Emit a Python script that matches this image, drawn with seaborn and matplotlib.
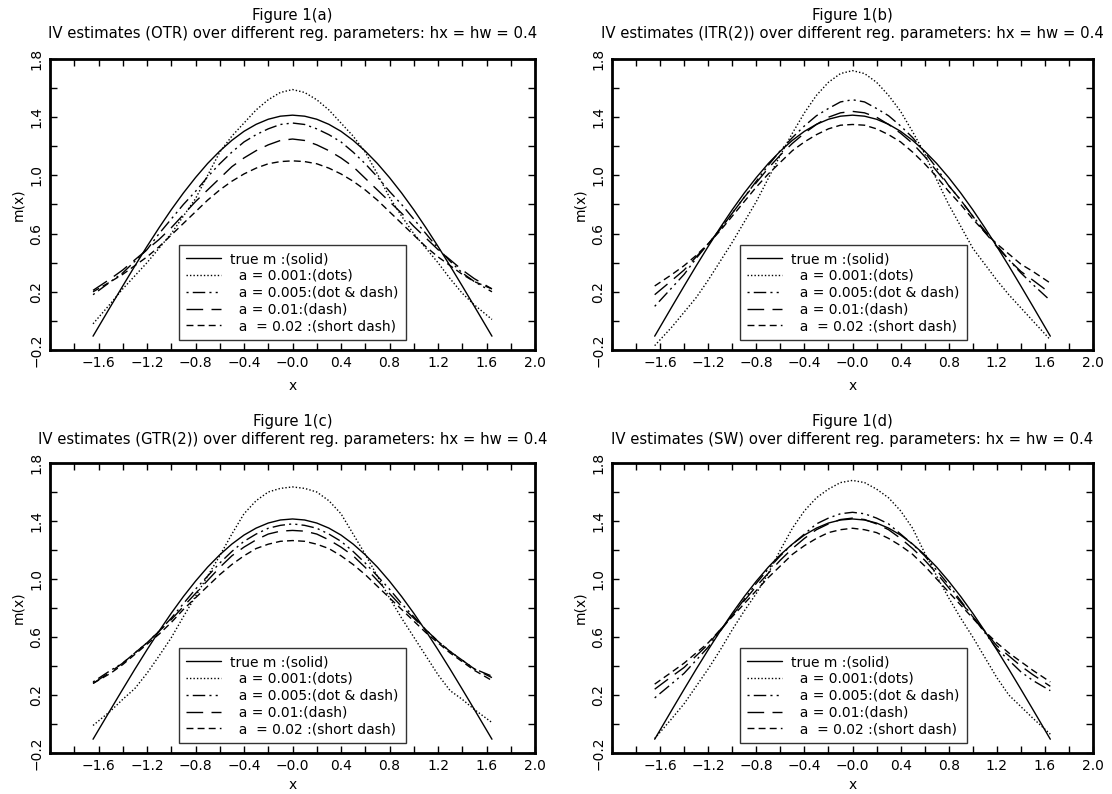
import matplotlib
matplotlib.use("Agg")
import matplotlib.pyplot as plt
import pandas as pd
import seaborn as sns

# grid of x points shared by all curves
x_grid = [-1.645, -1.5, -1.4, -1.3, -1.2, -1.1, -1.0, -0.9, -0.8, -0.7, -0.6,
          -0.5, -0.4, -0.3, -0.2, -0.1, 0.0, 0.1, 0.2, 0.3, 0.4, 0.5, 0.6,
          0.7, 0.8, 0.9, 1.0, 1.1, 1.2, 1.3, 1.4, 1.5, 1.645]

true_m = [-0.105, 0.100, 0.240, 0.378, 0.512, 0.641, 0.764, 0.879, 0.985, 1.082, 1.167,
          1.241, 1.303, 1.351, 1.386, 1.407, 1.414, 1.407, 1.386, 1.351, 1.303, 1.241, 1.167,
          1.082, 0.985, 0.879, 0.764, 0.641, 0.512, 0.378, 0.240, 0.100, -0.105]

# Figure 1(a) - OTR
otr_001 = [-0.02, 0.12, 0.22, 0.31, 0.40, 0.50, 0.60, 0.72, 0.84, 1.00, 1.16,
           1.27, 1.36, 1.45, 1.52, 1.57, 1.59, 1.57, 1.52, 1.45, 1.36, 1.27, 1.16,
           1.01, 0.85, 0.72, 0.60, 0.50, 0.40, 0.29, 0.19, 0.11, 0.01]
otr_005 = [0.18, 0.27, 0.33, 0.41, 0.49, 0.60, 0.70, 0.80, 0.89, 0.99, 1.08,
           1.16, 1.23, 1.28, 1.32, 1.35, 1.36, 1.35, 1.32, 1.28, 1.23, 1.16, 1.08,
           0.99, 0.89, 0.80, 0.70, 0.60, 0.50, 0.41, 0.33, 0.27, 0.20]
otr_01 = [0.21, 0.29, 0.35, 0.42, 0.49, 0.56, 0.64, 0.73, 0.82, 0.90, 0.98,
          1.06, 1.12, 1.17, 1.21, 1.24, 1.25, 1.24, 1.21, 1.17, 1.12, 1.06, 0.98,
          0.90, 0.82, 0.74, 0.65, 0.57, 0.49, 0.42, 0.35, 0.29, 0.22]
otr_02 = [0.20, 0.27, 0.32, 0.38, 0.44, 0.51, 0.59, 0.67, 0.75, 0.83, 0.90,
          0.96, 1.01, 1.05, 1.08, 1.095, 1.10, 1.095, 1.08, 1.05, 1.01, 0.96, 0.90,
          0.83, 0.75, 0.67, 0.59, 0.51, 0.44, 0.38, 0.32, 0.27, 0.22]

# Figure 1(b) - ITR(2)
itr_001 = [-0.17, -0.04, 0.06, 0.16, 0.28, 0.41, 0.54, 0.68, 0.82, 0.98, 1.14,
           1.29, 1.43, 1.55, 1.64, 1.70, 1.72, 1.70, 1.64, 1.55, 1.44, 1.30, 1.15,
           0.97, 0.80, 0.65, 0.50, 0.39, 0.28, 0.18, 0.09, 0.00, -0.13]
itr_005 = [0.10, 0.23, 0.32, 0.43, 0.53, 0.63, 0.74, 0.85, 0.96, 1.07, 1.17,
           1.26, 1.34, 1.41, 1.46, 1.505, 1.52, 1.505, 1.46, 1.41, 1.34, 1.26, 1.16,
           1.05, 0.93, 0.83, 0.72, 0.62, 0.52, 0.42, 0.33, 0.25, 0.14]
itr_01 = [0.18, 0.28, 0.35, 0.44, 0.53, 0.63, 0.74, 0.85, 0.95, 1.05, 1.14,
          1.22, 1.29, 1.35, 1.40, 1.43, 1.44, 1.43, 1.40, 1.35, 1.29, 1.22, 1.13,
          1.03, 0.93, 0.83, 0.72, 0.61, 0.51, 0.42, 0.34, 0.28, 0.19]
itr_02 = [0.24, 0.32, 0.38, 0.45, 0.53, 0.62, 0.72, 0.82, 0.92, 1.01, 1.09,
          1.17, 1.23, 1.28, 1.32, 1.345, 1.35, 1.345, 1.32, 1.28, 1.23, 1.16, 1.08,
          0.99, 0.89, 0.80, 0.70, 0.61, 0.53, 0.46, 0.39, 0.34, 0.26]

# Figure 1(c) - GTR(2)
gtr_001 = [-0.01, 0.09, 0.17, 0.245, 0.35, 0.47, 0.595, 0.74, 0.88, 1.02, 1.16,
           1.31, 1.45, 1.54, 1.60, 1.625, 1.635, 1.625, 1.60, 1.54, 1.45, 1.31, 1.17,
           1.02, 0.87, 0.73, 0.60, 0.47, 0.34, 0.23, 0.17, 0.10, 0.01]
gtr_005 = [0.29, 0.37, 0.42, 0.49, 0.56, 0.64, 0.73, 0.83, 0.93, 1.02, 1.11,
           1.19, 1.26, 1.31, 1.35, 1.37, 1.38, 1.37, 1.35, 1.31, 1.26, 1.19, 1.11,
           1.02, 0.93, 0.83, 0.74, 0.65, 0.57, 0.50, 0.44, 0.38, 0.33]
gtr_01 = [0.28, 0.36, 0.42, 0.49, 0.56, 0.64, 0.72, 0.81, 0.90, 0.99, 1.08,
          1.16, 1.22, 1.27, 1.31, 1.33, 1.335, 1.33, 1.31, 1.27, 1.22, 1.16, 1.08,
          0.99, 0.90, 0.81, 0.73, 0.65, 0.57, 0.50, 0.44, 0.38, 0.32]
gtr_02 = [0.28, 0.35, 0.41, 0.48, 0.55, 0.62, 0.70, 0.79, 0.87, 0.95, 1.03,
          1.10, 1.16, 1.21, 1.24, 1.26, 1.265, 1.26, 1.24, 1.21, 1.16, 1.10, 1.03,
          0.95, 0.87, 0.79, 0.71, 0.63, 0.56, 0.49, 0.43, 0.37, 0.30]

# Figure 1(d) - SW
sw_001 = [-0.10, 0.04, 0.14, 0.26, 0.38, 0.51, 0.65, 0.78, 0.90, 1.04, 1.20,
          1.35, 1.47, 1.56, 1.62, 1.665, 1.68, 1.665, 1.62, 1.56, 1.47, 1.35, 1.18,
          1.02, 0.87, 0.73, 0.60, 0.46, 0.32, 0.20, 0.12, 0.04, -0.07]
sw_005 = [0.18, 0.28, 0.35, 0.44, 0.53, 0.64, 0.75, 0.86, 0.97, 1.07, 1.16,
          1.24, 1.31, 1.38, 1.42, 1.45, 1.46, 1.45, 1.42, 1.38, 1.31, 1.24, 1.16,
          1.06, 0.96, 0.85, 0.74, 0.63, 0.52, 0.44, 0.36, 0.30, 0.23]
sw_01 = [0.24, 0.33, 0.39, 0.47, 0.55, 0.65, 0.75, 0.85, 0.95, 1.04, 1.13,
         1.21, 1.28, 1.34, 1.38, 1.41, 1.42, 1.41, 1.38, 1.34, 1.28, 1.21, 1.13,
         1.04, 0.94, 0.84, 0.74, 0.64, 0.54, 0.47, 0.40, 0.34, 0.26]
sw_02 = [0.275, 0.36, 0.42, 0.49, 0.56, 0.65, 0.74, 0.83, 0.92, 1.01, 1.09,
         1.17, 1.23, 1.28, 1.32, 1.34, 1.35, 1.34, 1.32, 1.28, 1.23, 1.17, 1.09,
         1.00, 0.91, 0.82, 0.73, 0.64, 0.56, 0.49, 0.43, 0.37, 0.29]

panel_names = ["a", "b", "c", "d"]
panel_methods = ["OTR", "ITR(2)", "GTR(2)", "SW"]
panel_series = [
    [otr_001, otr_005, otr_01, otr_02],
    [itr_001, itr_005, itr_01, itr_02],
    [gtr_001, gtr_005, gtr_01, gtr_02],
    [sw_001, sw_005, sw_01, sw_02],
]

legend_labels = [
    "true m :(solid)",
    "  a = 0.001:(dots)",
    "  a = 0.005:(dot & dash)",
    "  a = 0.01:(dash)",
    "  a  = 0.02 :(short dash)",
]
line_styles = [
    "-",
    (0, (1, 1.5)),
    (0, (1.5, 3, 9, 3, 1.5, 3)),
    (0, (12, 6)),
    (0, (5, 3)),
]

x_major = [-1.6, -1.2, -0.8, -0.4, 0.0, 0.4, 0.8, 1.2, 1.6, 2.0]
x_major_labels = ["\u22121.6", "\u22121.2", "\u22120.8", "\u22120.4", "\u22120.0",
                  "0.4", "0.8", "1.2", "1.6", "2.0"]
x_minor = [-2.0, -1.8, -1.4, -1.0, -0.6, -0.2, 0.2, 0.6, 1.0, 1.4, 1.8]
y_major = [-0.2, 0.2, 0.6, 1.0, 1.4, 1.8]
y_major_labels = ["\u22120.2", "0.2", "0.6", "1.0", "1.4", "1.8"]
y_minor = [0.0, 0.4, 0.8, 1.2, 1.6]

sns.set_theme(style="ticks")
plt.rcParams["font.family"] = ["DejaVu Sans"]
plt.rcParams["text.color"] = "black"
plt.rcParams["axes.labelcolor"] = "black"
plt.rcParams["xtick.color"] = "black"
plt.rcParams["ytick.color"] = "black"

fig = plt.figure(figsize=(11.12, 7.94), dpi=100)
W, H = 1112, 794
# axes boxes in pixels: left, top, right, bottom
boxes = [(50, 59, 535, 350), (612, 59, 1093, 350),
         (50, 463, 535, 753), (612, 463, 1093, 753)]

for i, (l, t, r, b) in enumerate(boxes):
    ax = fig.add_axes([l / W, 1 - b / H, (r - l) / W, (b - t) / H])
    curves = [true_m] + panel_series[i]
    for ys, lab, ls in zip(curves, legend_labels, line_styles):
        df = pd.DataFrame({"x": x_grid, "m": ys})
        sns.lineplot(data=df, x="x", y="m", ax=ax, color="black",
                     linewidth=1.0, linestyle=ls, label=lab,
                     estimator=None, sort=False)
    ax.set_xlim(-2.0, 2.0)
    ax.set_ylim(-0.2, 1.8)
    ax.set_xticks(x_major)
    ax.set_xticklabels(x_major_labels, fontsize=10)
    ax.set_xticks(x_minor, minor=True)
    ax.set_yticks(y_major)
    ax.set_yticklabels(y_major_labels, fontsize=10, rotation=90, va="center")
    ax.set_yticks(y_minor, minor=True)
    ax.tick_params(which="both", direction="in", top=True, right=True,
                   length=5, width=1, color="black")
    ax.tick_params(axis="x", which="both", pad=4)
    ax.tick_params(axis="y", which="both", pad=5)
    for sp in ax.spines.values():
        sp.set_linewidth(2)
        sp.set_color("black")
    # bottom row sits close to the figure edge
    ax.set_xlabel("x", fontsize=10, labelpad=7 if i < 2 else 4)
    ax.set_ylabel("m(x)", fontsize=10, labelpad=3)
    ax.set_title(f"Figure 1({panel_names[i]})\nIV estimates ({panel_methods[i]}) over "
                 f"different reg. parameters: hx = hw = 0.4",
                 fontsize=10.7, pad=15 if i < 2 else 14, linespacing=1.25)
    leg = ax.legend(loc="lower left", bbox_to_anchor=(0.266, 0.034),
                    borderaxespad=0, frameon=True, fancybox=False,
                    edgecolor="black", fontsize=10, handlelength=2.5,
                    handletextpad=0.7, labelspacing=0.2, borderpad=0.5)
    leg.get_frame().set_linewidth(1.0)

fig.savefig("out.png", dpi=100, facecolor="white")
